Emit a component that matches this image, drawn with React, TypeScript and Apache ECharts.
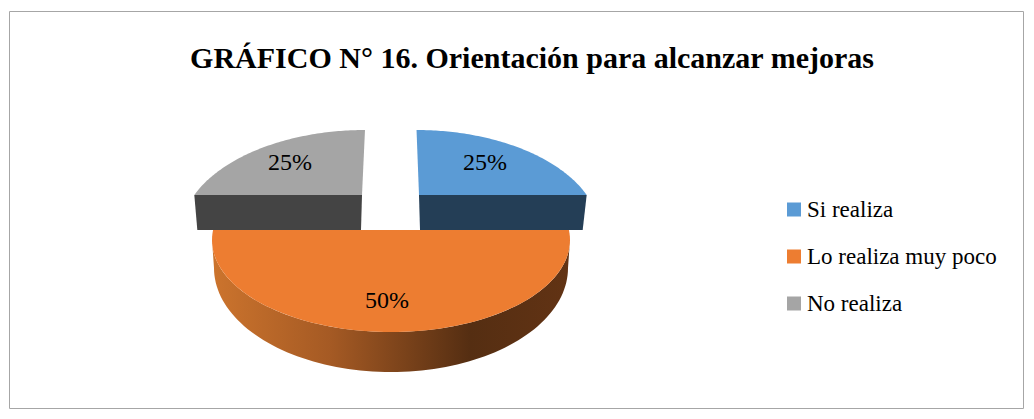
import React, { useEffect, useRef } from "react";
import * as echarts from "echarts";

const TITLE = "GRÁFICO N° 16. Orientación para alcanzar mejoras";
const categories = ["Si realiza", "Lo realiza muy poco", "No realiza"];
const values = [25, 50, 25];

const COLORS = ["#5B9BD5", "#ED7D31", "#A5A5A5"];
const SERIES_LOOK = [
  { cx: 419, cy: 230, rx: 179, ry: 100, cutY: 195, skew: -0.038, face: "#243E56", depth: 35, inset: 4, label: [485, 162] },
  { cx: 391, cy: 240, rx: 179, ry: 92, cutY: 230, skew: 0, face: "#603214", depth: 28, inset: 2, label: [387, 300] },
  { cx: 362, cy: 230, rx: 179, ry: 100, cutY: 195, skew: 0.046, face: "#444444", depth: 35, inset: 3, label: [290, 162] },
];
const wallGradient = {
  type: "linear", x: 0, y: 0, x2: 1, y2: 0,
  colorStops: [
    { offset: 0, color: "#CC742D" },
    { offset: 0.33, color: "#A55A24" },
    { offset: 0.72, color: "#552E12" },
    { offset: 1, color: "#623314" },
  ],
};

const total = values.reduce((a, b) => a + b, 0);
const deg = Math.PI / 180;

function sliceChildren(i: number) {
  const look = SERIES_LOOK[i];
  const { cx, cy, rx, ry, cutY, skew, face, depth, inset, label } = look;
  const before = values.slice(0, i).reduce((a, b) => a + b, 0);
  const start = -90 + (before / total) * 360;
  const end = start + (values[i] / total) * 360;
  const lift = Math.asin((cy - cutY) / ry) / deg;
  const a0 = start % 180 === 0 ? (start === 0 ? -lift : 180 + lift) : start;
  const a1 = end % 180 === 0 ? (end === 0 ? -lift : 180 + lift) : end;
  const pt = (a: number, cyy = cy, rxx = rx, ryy = ry) => {
    const y = cyy + ryy * Math.sin(a * deg);
    return [cx + rxx * Math.cos(a * deg) + skew * (cutY - y), y];
  };
  const arc: number[][] = [];
  const steps = 90;
  for (let k = 0; k <= steps; k++) arc.push(pt(a0 + ((a1 - a0) * k) / steps));
  const children: any[] = [];
  if (end - start >= 180) {
    const low: number[][] = [];
    const bottomCy = cy + depth;
    for (let k = 0; k <= steps; k++) low.push(pt((180 * k) / steps, bottomCy, rx - inset, ry + 12));
    const top: number[][] = [];
    for (let k = steps; k >= 0; k--) top.push(pt((180 * k) / steps));
    children.push({ type: "polygon", shape: { points: low.concat(top) }, style: { fill: wallGradient } });
    children.push({ type: "polygon", shape: { points: arc }, style: { fill: COLORS[i] } });
  } else {
    const outer = i === 0 ? arc[arc.length - 1] : arc[0];
    const apex = [cx, cutY];
    const dir = Math.sign(outer[0] - cx);
    children.push({
      type: "polygon",
      shape: { points: [apex, outer, [outer[0] - dir * inset, cutY + depth], [cx + dir * 1, cutY + depth]] },
      style: { fill: face },
    });
    children.push({ type: "polygon", shape: { points: [apex, ...arc] }, style: { fill: COLORS[i] } });
  }
  children.push({
    type: "text",
    style: {
      text: `${Math.round((values[i] / total) * 100)}%`,
      x: label[0], y: label[1], align: "center", verticalAlign: "middle",
      font: "24px 'Liberation Serif'", fill: "#000000",
    },
  });
  return children;
}

export default function App() {
  const ref = useRef<HTMLDivElement>(null);
  useEffect(() => {
    const chart = echarts.init(ref.current!, undefined, { renderer: "svg" });
    chart.setOption({
      animation: false,
      backgroundColor: "#FFFFFF",
      title: {
        text: TITLE, left: 527, top: 37, textAlign: "center",
        textStyle: { fontFamily: "Liberation Serif", fontWeight: "bold", fontSize: 30, color: "#000000" },
      },
      legend: {
        orient: "vertical", left: 782, top: 193, icon: "rect",
        itemWidth: 14, itemHeight: 14, itemGap: 24, selectedMode: false,
        textStyle: { fontFamily: "Liberation Serif", fontSize: 23, color: "#000000", padding: [0, 0, 0, 1] },
        data: categories,
      },
      graphic: [{
        type: "rect", shape: { x: 9.5, y: 11.5, width: 1014, height: 397 },
        style: { fill: "none", stroke: "#A6A6A6", lineWidth: 1 }, silent: true,
      }],
      series: categories.map((name, i) => ({
        type: "custom", name, coordinateSystem: "none",
        itemStyle: { color: COLORS[i] },
        data: [values[i]],
        renderItem: () => ({ type: "group", children: sliceChildren(i) }),
      })),
    });
    return () => chart.dispose();
  }, []);
  return <div ref={ref} style={{ position: "fixed", left: 0, top: 0, width: 1034, height: 419 }} />;
}
